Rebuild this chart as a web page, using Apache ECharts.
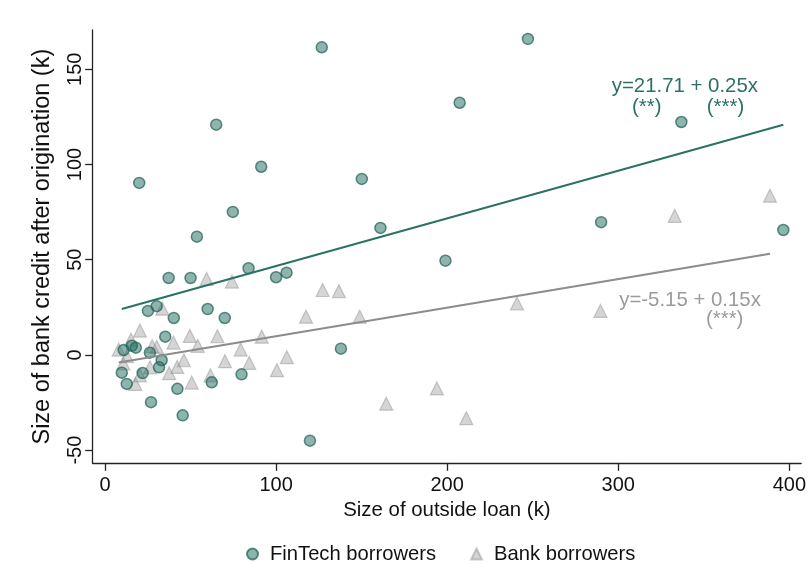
<!DOCTYPE html>
<html>
<head>
<meta charset="utf-8">
<script src="https://cdn.jsdelivr.net/npm/echarts@6/dist/echarts.min.js"></script>
<style>
html,body{margin:0;padding:0;background:#fff;}
#chart{width:809px;height:565px;}
</style>
</head>
<body>
<div id="chart"></div>
<script>
// ---- data ----
var fintechX = [126.7, 65.0, 20.0, 91.3, 150.1, 74.7, 161.0, 53.7, 247.2, 207.3, 336.9, 290.0, 396.5,
  199.0, 137.9, 119.8, 106.1, 37.2, 50.0, 83.9, 100.0, 25.1, 30.2, 60.0, 70.0, 40.2, 35.2,
  10.9, 15.7, 18.0, 26.2, 33.1, 22.0, 9.8, 31.6, 12.7, 42.3, 62.4, 79.8, 26.9, 45.4];
var fintechY = [161.5, 120.9, 90.3, 98.8, 92.4, 75.1, 66.7, 62.1, 165.9, 132.4, 122.3, 69.7, 65.6,
  49.5, 3.3, -45.0, 43.2, 40.4, 40.4, 45.5, 40.8, 23.1, 25.6, 24.1, 19.4, 19.4, 9.6,
  2.6, 4.8, 3.8, 1.2, -2.8, -9.5, -9.3, -6.5, -15.2, -17.8, -14.4, -10.2, -24.8, -31.7];

var bankX = [333.0, 388.7, 127.2, 136.7, 117.5, 148.9, 240.8, 289.6, 106.3, 100.5, 194.0, 164.4, 211.2,
  59.4, 74.2, 33.5, 20.4, 15.2, 8.0, 12.8, 10.7, 27.6, 30.3, 40.0, 49.6, 54.2, 65.7, 79.3, 91.6,
  46.1, 70.1, 84.3, 26.3, 17.7, 20.4, 50.7, 61.6, 42.2, 37.5];
var bankY = [73.0, 83.6, 34.1, 33.5, 20.1, 20.1, 27.0, 23.1, -1.2, -8.0, -17.6, -25.6, -33.2,
  39.9, 38.5, 24.3, 12.8, 8.0, 2.8, -0.7, -4.5, 4.6, 4.2, 6.5, 10.0, 4.8, 9.8, 2.8, 9.6,
  -2.8, -3.3, -4.2, -6.5, -15.2, -10.7, -14.5, -10.7, -6.3, -9.6];

var fintechFit = [21.71, 0.25];   // intercept, slope
var bankFit = [-5.15, 0.15];

var xTicks = [0, 100, 200, 300, 400];
var yTicks = [-50, 0, 50, 100, 150];

var seriesNames = ['FinTech borrowers', 'Bank borrowers'];
var fitLabels = ['y=21.71 + 0.25x', 'y=-5.15 + 0.15x'];
var fintechSig = ['(**)', '(***)'];
var bankSig = ['(***)'];

// ---- build ----
function pairs(xs, ys) { return xs.map(function (x, i) { return [x, ys[i]]; }); }
function fitLine(xs, fit) {
  var lo = Math.min.apply(null, xs), hi = Math.max.apply(null, xs);
  return [[lo, fit[0] + fit[1] * lo], [hi, fit[0] + fit[1] * hi]];
}

var teal = '#2b7166';
var grayText = '#9b9b9b';
var FONT = '"Liberation Sans", Arial, Helvetica, sans-serif';

var chart = echarts.init(document.getElementById('chart'), null, { renderer: 'canvas' });
chart.setOption({
  backgroundColor: '#ffffff',
  animation: false,
  grid: { left: 92.7, right: 7.3, top: 30, bottom: 101.7, containLabel: false },
  xAxis: {
    type: 'value', min: -7.2, max: 406.9,
    name: 'Size of outside loan (k)', nameLocation: 'middle', nameGap: 35,
    nameTextStyle: { fontFamily: FONT, fontSize: 20.4, color: '#111' },
    axisLine: { show: true, onZero: false, lineStyle: { color: '#222', width: 1.3 } },
    axisTick: { show: true, length: 7.5, lineStyle: { color: '#222', width: 1.3 }, customValues: xTicks },
    axisLabel: { fontFamily: FONT, fontSize: 20, color: '#111', margin: 12, customValues: xTicks },
    splitLine: { show: false }
  },
  yAxis: {
    type: 'value', min: -56.9, max: 170.6,
    name: 'Size of bank credit after origination (k)', nameLocation: 'middle', nameGap: 38,
    nameTextStyle: { fontFamily: FONT, fontSize: 23.5, color: '#111' },
    axisLine: { show: true, onZero: false, lineStyle: { color: '#222', width: 1.3 } },
    axisTick: { show: true, length: 7.5, lineStyle: { color: '#222', width: 1.3 }, customValues: yTicks },
    axisLabel: { fontFamily: FONT, fontSize: 20, color: '#111', margin: 7, rotate: 90, customValues: yTicks },
    splitLine: { show: false }
  },
  legend: {
    data: [
      { name: seriesNames[0], icon: 'circle' },
      { name: seriesNames[1], icon: 'triangle' }
    ],
    left: 241, top: 539, itemWidth: 11, itemHeight: 11, itemGap: 34,
    textStyle: { fontFamily: FONT, fontSize: 20.2, color: '#111', padding: [0, 0, 0, 7] }
  },
  series: [
    {
      name: seriesNames[1], type: 'scatter', symbol: 'triangle', symbolSize: 13, z: 2,
      data: pairs(bankX, bankY),
      itemStyle: { color: 'rgba(150,150,150,0.5)', borderColor: 'rgba(140,140,140,0.55)', borderWidth: 1.2 }
    },
    {
      name: seriesNames[0], type: 'scatter', symbol: 'circle', symbolSize: 11, z: 3,
      data: pairs(fintechX, fintechY),
      itemStyle: { color: 'rgba(40,110,98,0.65)', borderColor: 'rgba(30,98,86,0.9)', borderWidth: 1.5 }
    },
    {
      name: 'fit1', type: 'line', data: fitLine(fintechX, fintechFit), symbol: 'none', z: 4,
      lineStyle: { color: teal, width: 2 }, silent: true
    },
    {
      name: 'fit2', type: 'line', data: fitLine(bankX, bankFit), symbol: 'none', z: 4,
      lineStyle: { color: '#8c8c8c', width: 2 }, silent: true
    }
  ],
  graphic: [
    { type: 'text', x: 611.7, y: 86.7, style: { text: fitLabels[0], fill: teal, font: '20.4px ' + FONT, verticalAlign: 'middle' } },
    { type: 'text', x: 646.7, y: 107.3, style: { text: fintechSig[0], fill: teal, font: '20.4px ' + FONT, align: 'center', verticalAlign: 'middle' } },
    { type: 'text', x: 725.5, y: 107.3, style: { text: fintechSig[1], fill: teal, font: '20.4px ' + FONT, align: 'center', verticalAlign: 'middle' } },
    { type: 'text', x: 619.2, y: 299.9, style: { text: fitLabels[1], fill: grayText, font: '20.4px ' + FONT, verticalAlign: 'middle' } },
    { type: 'text', x: 724.7, y: 319.4, style: { text: bankSig[0], fill: grayText, font: '20.4px ' + FONT, align: 'center', verticalAlign: 'middle' } }
  ]
});
</script>
</body>
</html>
